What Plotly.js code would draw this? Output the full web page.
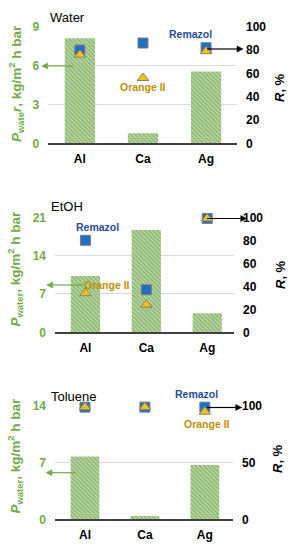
<!DOCTYPE html>
<html>
<head>
<meta charset="utf-8">
<script src="https://cdn.plot.ly/plotly-3.0.1.min.js"></script>
<style>html,body{margin:0;padding:0;background:#fff;}#chart{width:291px;height:550px;}</style>
</head>
<body>
<div id="chart"></div>
<script>
// ---- data ----
const cats = ['Al', 'Ca', 'Ag'];
const fluxWater = [8.1, 0.78, 5.55];
const fluxEtOH = [10.3, 18.7, 3.5];
const fluxToluene = [7.75, 0.4, 6.7];
const remazolWater = [80, 86, 82];
const orangeWater = [76, 56, 79];
const remazolEtOH = [80, 37, 99];
const orangeEtOH = [34, 24, 99];
const remazolToluene = [99, 99, 99];
const orangeToluene = [99, 99, 95];
const panelNames = ['Water', 'EtOH', 'Toluene'];
const leftTicksWater = [0, 3, 6, 9];
const leftTicksEtOH = [0, 7, 14, 21];
const leftTicksToluene = [0, 7, 14];
const rightTicksWater = [0, 20, 40, 60, 80, 100];
const rightTicksEtOH = [0, 20, 40, 60, 80, 100];
const rightTicksToluene = [0, 50, 100];

// ---- style ----
const FONT = 'Liberation Sans, Arial, sans-serif';
const GREEN = '#70AD47';
const W = 291, H = 550;
const px = x => x / W;
const py = y => 1 - y / H;

function barTrace(vals, xa, ya) {
  return {
    type: 'bar', x: cats, y: vals, xaxis: xa, yaxis: ya, width: 0.48,
    marker: {
      color: '#BFD9AB',
      line: {width: 0},
      pattern: {shape: '\\', fgcolor: '#5A9636', bgcolor: '#BFD9AB', size: 3, solidity: 0.55, fillmode: 'overlay'}
    },
    hoverinfo: 'skip', showlegend: false
  };
}
function markTrace(vals, xa, ya, sym, col, size) {
  return {
    type: 'scatter', mode: 'markers', x: cats, y: vals, xaxis: xa, yaxis: ya, cliponaxis: false,
    marker: {symbol: sym, color: col, size: size, line: {color: '#7F7F7F', width: 1}},
    showlegend: false, hoverinfo: 'skip'
  };
}

const data = [
  barTrace(fluxWater, 'x', 'y'),
  markTrace(remazolWater, 'x', 'y2', 'square', '#1F6FC4', 10),
  markTrace(orangeWater, 'x', 'y2', 'triangle-up', '#FFC000', 10),
  barTrace(fluxEtOH, 'x2', 'y3'),
  markTrace(remazolEtOH, 'x2', 'y4', 'square', '#1F6FC4', 10),
  markTrace(orangeEtOH, 'x2', 'y4', 'triangle-up', '#FFC000', 10),
  barTrace(fluxToluene, 'x3', 'y5'),
  markTrace(remazolToluene, 'x3', 'y6', 'square', '#1F6FC4', 10),
  markTrace(orangeToluene, 'x3', 'y6', 'triangle-up', '#FFC000', 10)
];

function xAx(domain, anchor, range) {
  return {
    domain: domain, anchor: anchor, range: range, type: 'category',
    showline: true, linecolor: '#404040', linewidth: 1.5, showgrid: false, zeroline: false,
    ticks: '', ticklabelstandoff: 4,
    tickfont: {family: FONT, size: 12, color: '#000', weight: 'bold'}, fixedrange: true
  };
}
function yLeft(domain, anchor, range, ticks) {
  return {
    domain: domain, anchor: anchor, range: range, tickvals: ticks, ticktext: ticks.map(String),
    showgrid: true, gridcolor: '#D9D9D9', gridwidth: 1, zeroline: false, showline: false,
    ticks: '', ticklabelstandoff: 8,
    tickfont: {family: FONT, size: 12, color: GREEN, weight: 'bold'}, fixedrange: true
  };
}
function yRight(over, anchor, ticks) {
  return {
    overlaying: over, side: 'right', anchor: anchor, range: [0, 100], tickvals: ticks, ticktext: ticks.map(String),
    showgrid: false, zeroline: false, showline: false, ticks: '', ticklabelstandoff: 8,
    tickfont: {family: FONT, size: 12, color: '#000', weight: 'bold'}, fixedrange: true
  };
}

const yD1 = [py(143.3), py(26.7)];
const yD2 = [py(332.3), py(217.3)];
const yD3 = [py(519.3), py(406)];

function txt(text, x, y, color, size, weight, angle) {
  return {
    text: text, x: px(x), y: py(y), xref: 'paper', yref: 'paper', showarrow: false,
    xanchor: 'center', yanchor: 'middle', textangle: angle || 0,
    font: {family: FONT, size: size, color: color, weight: weight || 'normal'}
  };
}
// arrows as shapes: line from tail to head plus a filled triangular head
function arrowShapes(hx, hy, tx, color) {
  const dir = tx > hx ? 1 : -1;
  const L = 6, hw = 3;
  const lineEnd = hx + dir * L;
  return [
    {type: 'line', xref: 'paper', yref: 'paper', x0: px(tx), y0: py(hy), x1: px(lineEnd), y1: py(hy),
     line: {color: color, width: 1.2}},
    {type: 'path', xref: 'paper', yref: 'paper',
     path: 'M ' + px(hx) + ' ' + py(hy) + ' L ' + px(hx + dir * L) + ' ' + py(hy - hw) +
           ' L ' + px(hx + dir * L) + ' ' + py(hy + hw) + ' Z',
     fillcolor: color, line: {color: color, width: 0.5}}
  ];
}

const leftTitle1 = '<i>P</i><sub>wate</sub><i>r</i>, kg/m<sup>2</sup> h bar';
const leftTitle = '<i>P</i><sub>water</sub>, kg/m<sup>2</sup> h bar';
const rightTitle = '<i>R</i>, %';

const annotations = [
  txt(panelNames[0], 67.5, 17.5, '#000', 13, 'normal'),
  txt(panelNames[1], 67, 206.7, '#000', 13, 'normal'),
  txt(panelNames[2], 73.7, 396, '#000', 13, 'normal'),
  txt('Remazol', 190, 33.5, '#1F4E99', 10.5, 'bold'),
  txt('Orange II', 142.6, 87.5, '#BF9000', 10.5, 'bold'),
  txt('Remazol', 97.7, 227, '#1F4E99', 10.5, 'bold'),
  txt('Orange II', 106.7, 285, '#BF9000', 10.5, 'bold'),
  txt('Remazol', 196.7, 393.7, '#1F4E99', 10.5, 'bold'),
  txt('Orange II', 207, 423.5, '#BF9000', 10.5, 'bold'),
  txt(leftTitle1, 15.5, 83.5, GREEN, 13.5, 'bold', -90),
  txt(leftTitle, 15.5, 269, GREEN, 13.5, 'bold', -90),
  txt(leftTitle, 15.5, 456, GREEN, 13.5, 'bold', -90),
  txt(rightTitle, 279.5, 87.5, '#000', 13, 'bold', -90),
  txt(rightTitle, 280, 275, '#000', 13, 'bold', -90),
  txt(rightTitle, 277, 459, '#000', 13, 'bold', -90)
];

const shapes = [].concat(
  arrowShapes(41.7, 66, 73.3, GREEN),
  arrowShapes(243, 49, 207, '#000'),
  arrowShapes(46.7, 285, 83, GREEN),
  arrowShapes(246.7, 218.5, 207, '#000'),
  arrowShapes(46, 472.7, 76, GREEN),
  arrowShapes(241.7, 407.5, 207, '#000')
);

const layout = {
  width: W, height: H,
  margin: {l: 0, r: 0, t: 0, b: 0, pad: 0},
  paper_bgcolor: '#fff', plot_bgcolor: 'rgba(0,0,0,0)',
  font: {family: FONT},
  showlegend: false,
  xaxis: xAx([px(48.3), px(237)], 'y', [-0.5, 2.49]),
  yaxis: yLeft(yD1, 'x', [0, 9], leftTicksWater),
  yaxis2: yRight('y', 'x', rightTicksWater),
  xaxis2: xAx([px(55), px(234)], 'y3', [-0.5, 2.44]),
  yaxis3: yLeft(yD2, 'x2', [0, 21], leftTicksEtOH),
  yaxis4: yRight('y3', 'x2', rightTicksEtOH),
  xaxis3: xAx([px(55), px(233)], 'y5', [-0.5, 2.47]),
  yaxis5: yLeft(yD3, 'x3', [0, 14], leftTicksToluene),
  yaxis6: yRight('y5', 'x3', rightTicksToluene),
  annotations: annotations,
  shapes: shapes
};

Plotly.newPlot('chart', data, layout, {displayModeBar: false, staticPlot: true});
</script>
</body>
</html>
